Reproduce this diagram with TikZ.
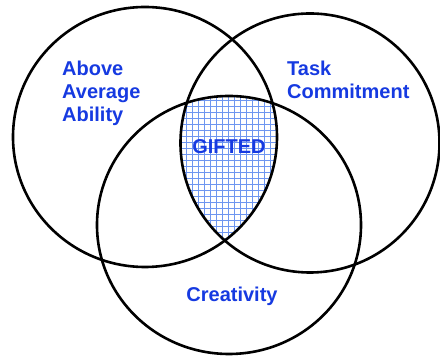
\documentclass[tikz,border=0pt]{standalone}
\usepackage{fontspec}
\setmainfont{Liberation Sans}
\definecolor{lblblue}{RGB}{22,58,225}
\definecolor{gridblue}{RGB}{110,150,240}
\tikzset{
  ring/.style={draw=black, line width=2.6pt},
  lbl/.style={text=lblblue, font=\bfseries\fontsize{20}{23}\selectfont, inner sep=0pt, align=left},
  gridline/.style={draw=gridblue, line width=0.8pt}
}
\begin{document}
\begin{tikzpicture}[x=1pt,y=1pt]
\useasboundingbox[fill=white] (0,0) rectangle (440,358);
% triple intersection hatching
\begin{scope}
  \clip (145,221) ellipse [x radius=132, y radius=130];
  \clip (310,215) circle [radius=129.5];
  \clip (229,133) ellipse [x radius=132, y radius=129];
  \draw[gridline, step=6] (150,80) grid (330,280);
\end{scope}
% circles
\draw[ring] (145,221) ellipse [x radius=132, y radius=130];
\draw[ring] (310,215) circle [radius=129.5];
\draw[ring] (229,133) ellipse [x radius=132, y radius=129];
% labels
\node[lbl, anchor=base west] (ability) at (62,236) {Above\\Average\\Ability};
\node[lbl, anchor=base west] (task) at (287,259) {Task\\Commitment};
\node[lbl, anchor=base] (gifted) at (229,204) {GIFTED};
\node[lbl, anchor=base] (creativity) at (232,56) {Creativity};
\end{tikzpicture}
\end{document}
